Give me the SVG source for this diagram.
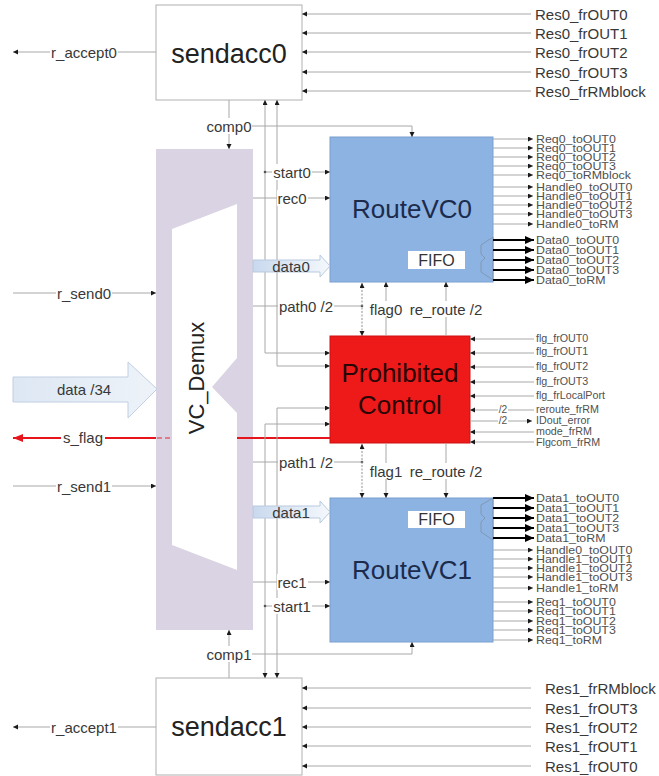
<svg xmlns="http://www.w3.org/2000/svg" width="659" height="776" viewBox="0 0 659 776">
<style>
text{font-family:"Liberation Sans",Arial,sans-serif;fill:#383838;dominant-baseline:central}
.ln{stroke:#a8a8a8;stroke-width:1;fill:none}
.dot{stroke:#909090;stroke-width:1;fill:none;stroke-dasharray:2,1.5}
.thk{stroke:#000;stroke-width:2;fill:none}
.bg{fill:#fff}
.lbl{font-size:15px;text-anchor:middle}
.big{font-size:15px}
.sm{font-size:10.5px;fill:#505050}
.pf{font-size:10.2px;fill:#505050}
.title{font-size:27px;fill:#222;text-anchor:middle}
.rv{font-size:26px;fill:#1c2b4c;text-anchor:middle}
.pc{font-size:26px;fill:#2a0505;text-anchor:middle}
.box{fill:#fff;stroke:#b0b0b0;stroke-width:1}
.blue{fill:#8db3e2;stroke:#7aa0d0;stroke-width:1}
.mux{fill:none;stroke:#8297b3;stroke-width:1}
</style>
<defs>
<marker id="a" markerUnits="userSpaceOnUse" markerWidth="6" markerHeight="6" refX="5" refY="2.5" orient="auto-start-reverse"><path d="M0,0 L5,2.5 L0,5 z" fill="#1a1a1a"/></marker>
<marker id="b" markerUnits="userSpaceOnUse" markerWidth="10" markerHeight="9" refX="9" refY="4" orient="auto"><path d="M0,0 L9,4 L0,8 z" fill="#000"/></marker>
<marker id="r" markerUnits="userSpaceOnUse" markerWidth="11" markerHeight="9" refX="10" refY="4" orient="auto-start-reverse"><path d="M0,0 L10,4 L0,8 z" fill="#e8141c"/></marker>
<linearGradient id="hg" x1="0" y1="0" x2="1" y2="0"><stop offset="0" stop-color="#dde7f3"/><stop offset="1" stop-color="#eef3f9"/></linearGradient>
<linearGradient id="dg" x1="0" y1="0" x2="1" y2="0"><stop offset="0" stop-color="#c9d9ee"/><stop offset="1" stop-color="#f4f8fc"/></linearGradient>
</defs>
<rect width="659" height="776" fill="#fff"/>

<g id="sendacc0">
<rect class="box" x="156" y="5" width="146" height="95"/>
<text class="title" x="229" y="54">sendacc0</text>
</g>
<g id="sendacc1">
<rect class="box" x="156" y="678" width="146" height="97"/>
<text class="title" x="229" y="727">sendacc1</text>
</g>

<g id="vc_demux">
<rect x="156" y="149" width="97" height="481" fill="#d9d3e3"/>
<polygon points="172,229 237,204 237,358 212,387 237,413 237,570 172,545" fill="#fff"/>
<text transform="translate(196,378) rotate(-90)" style="font-size:22px;fill:#222;text-anchor:middle">VC_Demux</text>
</g>

<g id="routevc0">
<rect class="blue" x="330" y="137" width="163" height="145"/>
<text class="rv" x="412" y="209">RouteVC0</text>
<rect x="408" y="251" width="57" height="18" fill="#fff"/>
<text x="436.5" y="260" style="font-size:16px;fill:#333;text-anchor:middle">FIFO</text>
<polygon class="mux" points="493,237 481,245 481,254 485,258 481,262 481,272 493,280"/>
</g>

<g id="routevc1">
<rect class="blue" x="330" y="498" width="163" height="144"/>
<text class="rv" x="412" y="570">RouteVC1</text>
<rect x="408" y="511" width="57" height="17" fill="#fff"/>
<text x="436.5" y="519.5" style="font-size:16px;fill:#333;text-anchor:middle">FIFO</text>
<polygon class="mux" points="493,498 481,505 481,514 485,518 481,522 481,532 493,540"/>
</g>

<g id="prohibited">
<rect x="330" y="336" width="140" height="107" fill="#ee1a1a" stroke="#d01010"/>
<text class="pc" x="400" y="373">Prohibited</text>
<text class="pc" x="400" y="405">Control</text>
</g>

<g id="connectors">
<!-- left side -->
<line class="ln" x1="156" y1="52" x2="13" y2="52" marker-end="url(#a)"/>
<rect class="bg" x="50" y="44" width="68" height="17"/>
<text class="lbl" x="84" y="52">r_accept0</text>
<line class="ln" x1="156" y1="727" x2="13" y2="727" marker-end="url(#a)"/>
<rect class="bg" x="50" y="719" width="68" height="17"/>
<text class="lbl" x="84" y="727">r_accept1</text>
<line class="ln" x1="13" y1="293" x2="156" y2="293" marker-end="url(#a)"/>
<rect class="bg" x="56" y="285" width="56" height="17"/>
<text class="lbl" x="84" y="293">r_send0</text>
<line class="ln" x1="13" y1="486" x2="156" y2="486" marker-end="url(#a)"/>
<rect class="bg" x="56" y="478" width="56" height="17"/>
<text class="lbl" x="84" y="486">r_send1</text>
<polygon points="13,377 128,377 128,362 157,389 128,418 128,402 13,402" fill="url(#hg)" stroke="#c0cfe2"/>
<text class="lbl" x="84" y="389">data /34</text>
<line x1="156" y1="438" x2="13" y2="438" stroke="#e8141c" stroke-width="2" marker-end="url(#r)"/>
<line x1="157" y1="438" x2="172" y2="438" stroke="#e8141c" stroke-width="1.5" stroke-dasharray="5,3" opacity="0.6"/>
<line x1="237" y1="438" x2="330" y2="438" stroke="#e8141c" stroke-width="2"/>
<rect class="bg" x="61" y="429" width="44" height="17"/>
<text class="lbl" x="83" y="437">s_flag</text>

<!-- Res0 inputs -->
<g>
<line class="ln" x1="531" y1="14" x2="302" y2="14" marker-end="url(#a)"/>
<line class="ln" x1="531" y1="33" x2="302" y2="33" marker-end="url(#a)"/>
<line class="ln" x1="531" y1="52" x2="302" y2="52" marker-end="url(#a)"/>
<line class="ln" x1="531" y1="72" x2="302" y2="72" marker-end="url(#a)"/>
<line class="ln" x1="531" y1="91" x2="302" y2="91" marker-end="url(#a)"/>
<text class="big" x="535" y="14">Res0_frOUT0</text>
<text class="big" x="535" y="33">Res0_frOUT1</text>
<text class="big" x="535" y="52">Res0_frOUT2</text>
<text class="big" x="535" y="72">Res0_frOUT3</text>
<text class="big" x="535" y="91">Res0_frRMblock</text>
</g>
<!-- Res1 inputs -->
<g>
<line class="ln" x1="531" y1="688" x2="302" y2="688" marker-end="url(#a)"/>
<line class="ln" x1="531" y1="708" x2="302" y2="708" marker-end="url(#a)"/>
<line class="ln" x1="531" y1="727" x2="302" y2="727" marker-end="url(#a)"/>
<line class="ln" x1="531" y1="746" x2="302" y2="746" marker-end="url(#a)"/>
<line class="ln" x1="531" y1="766" x2="302" y2="766" marker-end="url(#a)"/>
<text class="big" x="545" y="688">Res1_frRMblock</text>
<text class="big" x="545" y="708">Res1_frOUT3</text>
<text class="big" x="545" y="727">Res1_frOUT2</text>
<text class="big" x="545" y="746">Res1_frOUT1</text>
<text class="big" x="545" y="766">Res1_frOUT0</text>
</g>

<!-- vertical bus lines -->
<polyline class="ln" points="265,100 265,353 330,353" marker-start="url(#a)" marker-end="url(#a)"/>
<polyline class="ln" points="277,100 277,366 330,366" marker-start="url(#a)" marker-end="url(#a)"/>
<polyline class="ln" points="330,408 277,408 277,678" marker-start="url(#a)" marker-end="url(#a)"/>
<polyline class="ln" points="330,424 265,424 265,678" marker-start="url(#a)" marker-end="url(#a)"/>

<!-- comp0 / comp1 -->
<line class="ln" x1="229" y1="100" x2="229" y2="149" marker-end="url(#a)"/>
<polyline class="ln" points="229,126 412,126 412,137" marker-end="url(#a)"/>
<rect class="bg" x="207" y="118" width="45" height="16"/>
<text class="lbl" x="229" y="126">comp0</text>
<line class="ln" x1="229" y1="678" x2="229" y2="630" marker-end="url(#a)"/>
<polyline class="ln" points="229,654 412,654 412,642" marker-end="url(#a)"/>
<rect class="bg" x="207" y="646" width="45" height="16"/>
<text class="lbl" x="229" y="654">comp1</text>

<!-- VC0 inputs -->
<line class="ln" x1="265" y1="172" x2="330" y2="172" marker-end="url(#a)"/>
<circle cx="265" cy="172" r="1.3" fill="#555"/>
<rect class="bg" x="272" y="164" width="40" height="16"/>
<text class="lbl" x="292" y="172">start0</text>
<line class="ln" x1="253" y1="198" x2="330" y2="198" marker-end="url(#a)"/>
<rect class="bg" x="277" y="190" width="31" height="16"/>
<text class="lbl" x="292" y="198">rec0</text>
<polygon points="253,260 320,260 320,255 330,266 320,277 320,272 253,272" fill="url(#dg)" stroke="#b8c9df"/>
<text class="lbl" x="291" y="266">data0</text>
<line class="ln" x1="253" y1="306" x2="362" y2="306"/>
<circle cx="362" cy="306" r="1.3" fill="#555"/>
<rect class="bg" x="278" y="298" width="56" height="16"/>
<text class="lbl" x="306" y="306">path0 /2</text>
<line class="dot" x1="362" y1="283" x2="362" y2="336" marker-start="url(#a)" marker-end="url(#a)"/>
<line class="ln" x1="386" y1="336" x2="386" y2="282" marker-end="url(#a)"/>
<line class="ln" x1="446" y1="336" x2="446" y2="282" marker-end="url(#a)"/>
<rect class="bg" x="369" y="301" width="34" height="16"/>
<text class="lbl" x="386" y="309">flag0</text>
<rect class="bg" x="410" y="301" width="72" height="16"/>
<text class="lbl" x="446" y="309">re_route /2</text>

<!-- VC1 inputs -->
<line class="ln" x1="253" y1="462" x2="362" y2="462"/>
<circle cx="362" cy="462" r="1.3" fill="#555"/>
<rect class="bg" x="278" y="454" width="56" height="16"/>
<text class="lbl" x="306" y="462">path1 /2</text>
<line class="dot" x1="362" y1="444" x2="362" y2="498" marker-start="url(#a)" marker-end="url(#a)"/>
<line class="ln" x1="386" y1="443" x2="386" y2="498" marker-end="url(#a)"/>
<line class="ln" x1="446" y1="443" x2="446" y2="498" marker-end="url(#a)"/>
<rect class="bg" x="369" y="463" width="34" height="16"/>
<text class="lbl" x="386" y="471">flag1</text>
<rect class="bg" x="410" y="463" width="72" height="16"/>
<text class="lbl" x="446" y="471">re_route /2</text>
<polygon points="253,506 320,506 320,501 330,512 320,523 320,518 253,518" fill="url(#dg)" stroke="#b8c9df"/>
<text class="lbl" x="291" y="512">data1</text>
<line class="ln" x1="253" y1="582" x2="330" y2="582" marker-end="url(#a)"/>
<rect class="bg" x="277" y="574" width="31" height="16"/>
<text class="lbl" x="292" y="582">rec1</text>
<line class="ln" x1="265" y1="606" x2="330" y2="606" marker-end="url(#a)"/>
<circle cx="265" cy="606" r="1.3" fill="#555"/>
<rect class="bg" x="272" y="598" width="40" height="16"/>
<text class="lbl" x="292" y="606">start1</text>

<!-- RouteVC0 outputs -->
<g>
<line class="ln" x1="493" y1="139" x2="533" y2="139" marker-end="url(#a)"/>
<line class="ln" x1="493" y1="148" x2="533" y2="148" marker-end="url(#a)"/>
<line class="ln" x1="493" y1="157" x2="533" y2="157" marker-end="url(#a)"/>
<line class="ln" x1="493" y1="166" x2="533" y2="166" marker-end="url(#a)"/>
<line class="ln" x1="493" y1="175" x2="533" y2="175" marker-end="url(#a)"/>
<line class="ln" x1="493" y1="187" x2="533" y2="187" marker-end="url(#a)"/>
<line class="ln" x1="493" y1="196" x2="533" y2="196" marker-end="url(#a)"/>
<line class="ln" x1="493" y1="205" x2="533" y2="205" marker-end="url(#a)"/>
<line class="ln" x1="493" y1="214" x2="533" y2="214" marker-end="url(#a)"/>
<line class="ln" x1="493" y1="224" x2="533" y2="224" marker-end="url(#a)"/>
<line class="thk" x1="493" y1="240" x2="534" y2="240" marker-end="url(#b)"/>
<line class="thk" x1="493" y1="250" x2="534" y2="250" marker-end="url(#b)"/>
<line class="thk" x1="493" y1="260" x2="534" y2="260" marker-end="url(#b)"/>
<line class="thk" x1="493" y1="270" x2="534" y2="270" marker-end="url(#b)"/>
<line class="thk" x1="493" y1="280" x2="534" y2="280" marker-end="url(#b)"/>
<g transform="translate(536 0) scale(1.18 1)">
<text class="sm" x="0" y="139">Req0_toOUT0</text>
<text class="sm" x="0" y="148">Req0_toOUT1</text>
<text class="sm" x="0" y="157">Req0_toOUT2</text>
<text class="sm" x="0" y="166">Req0_toOUT3</text>
<text class="sm" x="0" y="175">Req0_toRMblock</text>
<text class="sm" x="0" y="187">Handle0_toOUT0</text>
<text class="sm" x="0" y="196">Handle0_toOUT1</text>
<text class="sm" x="0" y="205">Handle0_toOUT2</text>
<text class="sm" x="0" y="214">Handle0_toOUT3</text>
<text class="sm" x="0" y="224">Handle0_toRM</text>
<text class="sm" x="0" y="240">Data0_toOUT0</text>
<text class="sm" x="0" y="250">Data0_toOUT1</text>
<text class="sm" x="0" y="260">Data0_toOUT2</text>
<text class="sm" x="0" y="270">Data0_toOUT3</text>
<text class="sm" x="0" y="280">Data0_toRM</text>
</g>
</g>

<!-- RouteVC1 outputs -->
<g>
<line class="thk" x1="493" y1="498" x2="534" y2="498" marker-end="url(#b)"/>
<line class="thk" x1="493" y1="508" x2="534" y2="508" marker-end="url(#b)"/>
<line class="thk" x1="493" y1="518" x2="534" y2="518" marker-end="url(#b)"/>
<line class="thk" x1="493" y1="528" x2="534" y2="528" marker-end="url(#b)"/>
<line class="thk" x1="493" y1="538" x2="534" y2="538" marker-end="url(#b)"/>
<line class="ln" x1="493" y1="550" x2="533" y2="550" marker-end="url(#a)"/>
<line class="ln" x1="493" y1="559" x2="533" y2="559" marker-end="url(#a)"/>
<line class="ln" x1="493" y1="568" x2="533" y2="568" marker-end="url(#a)"/>
<line class="ln" x1="493" y1="577" x2="533" y2="577" marker-end="url(#a)"/>
<line class="ln" x1="493" y1="588" x2="533" y2="588" marker-end="url(#a)"/>
<line class="ln" x1="493" y1="602" x2="533" y2="602" marker-end="url(#a)"/>
<line class="ln" x1="493" y1="611" x2="533" y2="611" marker-end="url(#a)"/>
<line class="ln" x1="493" y1="621" x2="533" y2="621" marker-end="url(#a)"/>
<line class="ln" x1="493" y1="630" x2="533" y2="630" marker-end="url(#a)"/>
<line class="ln" x1="493" y1="640" x2="533" y2="640" marker-end="url(#a)"/>
<g transform="translate(536 0) scale(1.18 1)">
<text class="sm" x="0" y="498">Data1_toOUT0</text>
<text class="sm" x="0" y="508">Data1_toOUT1</text>
<text class="sm" x="0" y="518">Data1_toOUT2</text>
<text class="sm" x="0" y="528">Data1_toOUT3</text>
<text class="sm" x="0" y="538">Data1_toRM</text>
<text class="sm" x="0" y="550">Handle0_toOUT0</text>
<text class="sm" x="0" y="559">Handle1_toOUT1</text>
<text class="sm" x="0" y="568">Handle1_toOUT2</text>
<text class="sm" x="0" y="577">Handle1_toOUT3</text>
<text class="sm" x="0" y="588">Handle1_toRM</text>
<text class="sm" x="0" y="602">Req1_toOUT0</text>
<text class="sm" x="0" y="611">Req1_toOUT1</text>
<text class="sm" x="0" y="621">Req1_toOUT2</text>
<text class="sm" x="0" y="630">Req1_toOUT3</text>
<text class="sm" x="0" y="640">Req1_toRM</text>
</g>
</g>

<!-- Prohibited Control inputs -->
<g>
<line class="ln" x1="534" y1="339" x2="470" y2="339" marker-end="url(#a)"/>
<line class="ln" x1="534" y1="353" x2="470" y2="353" marker-end="url(#a)"/>
<line class="ln" x1="534" y1="367" x2="470" y2="367" marker-end="url(#a)"/>
<line class="ln" x1="534" y1="382" x2="470" y2="382" marker-end="url(#a)"/>
<line class="ln" x1="534" y1="396" x2="470" y2="396" marker-end="url(#a)"/>
<line class="ln" x1="534" y1="410" x2="470" y2="410" marker-end="url(#a)"/>
<line class="ln" x1="470" y1="421" x2="532" y2="421" marker-end="url(#a)"/>
<line class="ln" x1="534" y1="432" x2="470" y2="432" marker-end="url(#a)"/>
<line class="ln" x1="534" y1="442" x2="470" y2="442" marker-end="url(#a)"/>
<rect class="bg" x="498" y="404" width="10" height="9"/>
<rect class="bg" x="498" y="415" width="10" height="9"/>
<text class="pf" x="503" y="409" text-anchor="middle">/2</text>
<text class="pf" x="503" y="420" text-anchor="middle">/2</text>
<g transform="translate(536 0) scale(1.05 1)">
<text class="pf" x="0" y="339">flg_frOUT0</text>
<text class="pf" x="0" y="352">flg_frOUT1</text>
<text class="pf" x="0" y="367">flg_frOUT2</text>
<text class="pf" x="0" y="382">flg_frOUT3</text>
<text class="pf" x="0" y="396">flg_frLocalPort</text>
<text class="pf" x="0" y="410">reroute_frRM</text>
<text class="pf" x="0" y="421">IDout_error</text>
<text class="pf" x="0" y="432">mode_frRM</text>
<text class="pf" x="0" y="443">Flgcom_frRM</text>
</g>
</g>
</g>
</svg>
